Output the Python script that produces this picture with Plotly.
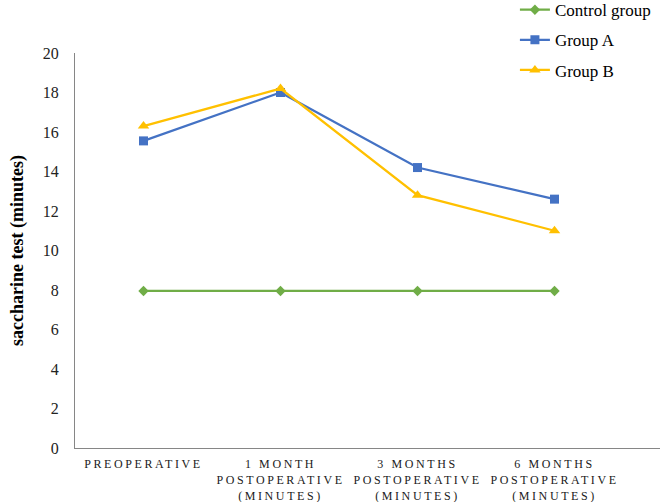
import plotly.graph_objects as go

categories = ["PREOPERATIVE", "1 MONTH<br>POSTOPERATIVE<br>(MINUTES)",
              "3 MONTHS<br>POSTOPERATIVE<br>(MINUTES)", "6 MONTHS<br>POSTOPERATIVE<br>(MINUTES)"]
control = [7.95, 7.95, 7.95, 7.95]
group_a = [15.55, 18.0, 14.2, 12.6]
group_b = [16.3, 18.2, 12.8, 11.0]
y_ticks = [0, 2, 4, 6, 8, 10, 12, 14, 16, 18, 20]

x_idx = list(range(len(categories)))
ticktext = ["<br>".join('<span style="letter-spacing:2.6px">%s</span>' % ln for ln in c.split("<br>"))
            for c in categories]

fig = go.Figure()
series = [
    ("Control group", control, "#70AD47", "diamond", 8),
    ("Group A", group_a, "#4472C4", "square", 9),
    ("Group B", group_b, "#FFC000", "triangle-up", 10),
]
for name, vals, col, sym, sz in series:
    fig.add_trace(go.Scatter(
        x=x_idx, y=vals, name=name, mode="lines+markers",
        line=dict(color=col, width=2.25),
        marker=dict(symbol=sym, size=sz, color=col),
        legendgroup=name,
    ))

serif = "Liberation Serif, Times New Roman, serif"
fig.update_layout(
    width=662, height=502,
    margin=dict(l=75, r=2, t=53, b=54, autoexpand=False),
    paper_bgcolor="white", plot_bgcolor="white",
    font=dict(family=serif, color="#000000"),
    showlegend=True,
    legend=dict(x=0.752, y=1.154, xanchor="left", yanchor="top",
                font=dict(family=serif, size=17, color="#000000"),
                bgcolor="rgba(0,0,0,0)", tracegroupgap=5, itemwidth=30),
    xaxis=dict(
        range=[-0.5, 3.77], tickvals=x_idx, ticktext=ticktext,
        showgrid=False, zeroline=False, showline=True,
        linecolor="#868686", linewidth=1,
        tickfont=dict(family=serif, size=12, color="#1a1a1a"),
        tickangle=0, ticklabelstandoff=5,
    ),
    yaxis=dict(
        range=[0, 20], tickvals=y_ticks, showgrid=False, zeroline=False,
        showline=True, linecolor="#868686", linewidth=1,
        tickfont=dict(family=serif, size=16, color="#222222"),
        ticklabelstandoff=12,
        title=dict(text="<b>saccharine test (minutes)</b>",
                   font=dict(family=serif, size=18, color="#000000"), standoff=14),
    ),
)
fig.write_html("out.html")
